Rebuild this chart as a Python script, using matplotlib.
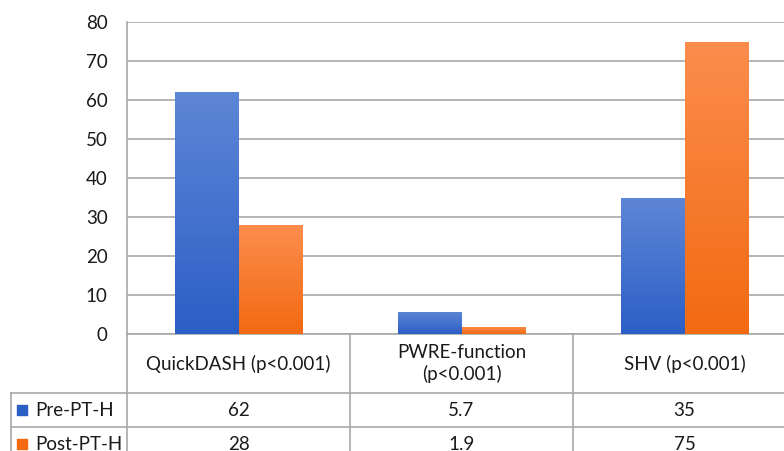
import numpy as np
import matplotlib.pyplot as plt
import matplotlib.colors as mcolors
from matplotlib.transforms import blended_transform_factory

plt.rcParams['font.family'] = ['Lato', 'DejaVu Sans']

categories = ['QuickDASH (p<0.001)', 'PWRE-function\n(p<0.001)', 'SHV (p<0.001)']
series = ['Pre-PT-H', 'Post-PT-H']
pre_vals = [62, 5.7, 35]
post_vals = [28, 1.9, 75]
pre_labels = ['62', '5.7', '35']
post_labels = ['28', '1.9', '75']

# gradient colours (top, bottom)
blue = ('#5e86d6', '#2b5fc6')
orange = ('#fc8d4d', '#f26a12')

W, H = 784, 451
fig = plt.figure(figsize=(W / 100, H / 100), dpi=100)
x0, x1, ytop, ybot = 127, 796, 22, 334
ax = fig.add_axes([x0 / W, (H - ybot) / H, (x1 - x0) / W, (ybot - ytop) / H])

x = np.arange(len(categories))
bw = 0.283
grid_c = '#a8a8a8'
fs = 13.5
tc = '#1a1a1a'

def grad_bars(xs, vals, cols):
    bars = ax.bar(xs, vals, bw, color='none', edgecolor='none', zorder=3)
    cmap = mcolors.LinearSegmentedColormap.from_list('g', [cols[1], cols[0]])
    for b in bars:
        bx, by = b.get_x(), b.get_y()
        im = ax.imshow(np.linspace(0, 1, 100).reshape(-1, 1), cmap=cmap, aspect='auto',
                       origin='lower', extent=[bx, bx + b.get_width(), by, by + b.get_height()],
                       zorder=3)
        im.set_clip_path(b)
    return bars

grad_bars(x - bw / 2, pre_vals, blue)
grad_bars(x + bw / 2, post_vals, orange)

ax.set_xlim(-0.5, 2.5)
ax.set_ylim(0, 80)
ax.set_yticks(range(0, 81, 10))
ax.yaxis.grid(True, color=grid_c, lw=1.2)
ax.set_axisbelow(True)
ax.set_xticks([])
for s in ['top', 'right', 'bottom']:
    ax.spines[s].set_visible(False)
ax.spines['left'].set_color(grid_c)
ax.spines['left'].set_linewidth(1.2)
ax.tick_params(axis='y', length=0, pad=14, labelsize=fs, labelcolor=tc)

# data table underneath
tr = blended_transform_factory(ax.transData, ax.transAxes)
ph = ybot - ytop
r_head = -(393 - ybot) / ph
r1 = -(427 - ybot) / ph
r2 = -(461 - ybot) / ph
xl = -0.5 + (11 - x0) / 223

def hline(y, xa, xb):
    ax.plot([xa, xb], [y, y], color=grid_c, lw=1.2, transform=tr, clip_on=False)

def vline(xv, ya, yb):
    ax.plot([xv, xv], [ya, yb], color=grid_c, lw=1.2, transform=tr, clip_on=False)

hline(0, -0.5, 2.5)
hline(r_head, xl, 2.5)
hline(r1, xl, 2.5)
hline(r2, xl, 2.5)
vline(-0.5, 0, r2)
vline(0.5, 0, r2)
vline(1.5, 0, r2)
vline(xl, r_head, r2)

for i, c in enumerate(categories):
    ax.text(i, r_head / 2, c, transform=tr, ha='center', va='center', fontsize=fs,
            color=tc, linespacing=1.25)
for row_y, vals, name, cols in [((r_head + r1) / 2, pre_labels, series[0], blue),
                                ((r1 + r2) / 2, post_labels, series[1], orange)]:
    for i, v in enumerate(vals):
        ax.text(i, row_y, v, transform=tr, ha='center', va='center', fontsize=fs, color=tc)
    ax.scatter([xl + 0.05], [row_y], marker='s', s=55, color=cols[1], transform=tr, clip_on=False)
    ax.text(xl + 0.11, row_y, name, transform=tr, ha='left', va='center', fontsize=fs, color=tc)

fig.savefig('out.png', dpi=100)
